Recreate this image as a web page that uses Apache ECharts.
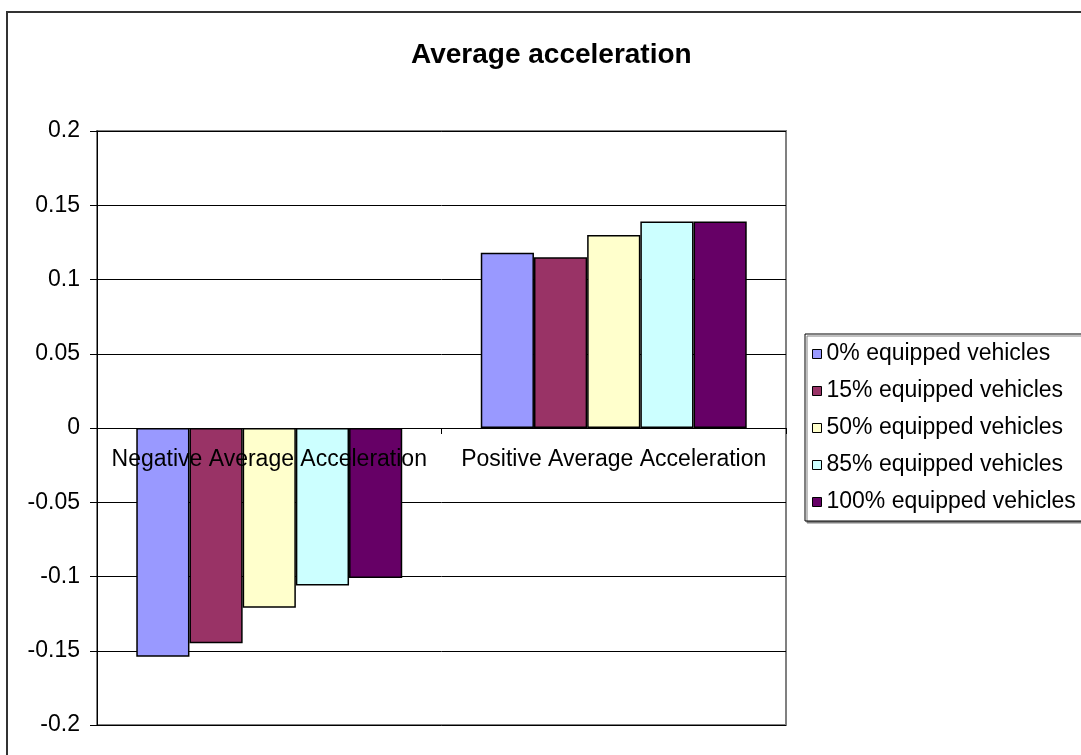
<!DOCTYPE html>
<html>
<head>
<meta charset="utf-8">
<script src="https://cdn.jsdelivr.net/npm/echarts@6/dist/echarts.min.js"></script>
<style>
  html, body { margin: 0; padding: 0; background: #fff; }
  #chart { width: 1081px; height: 755px; }
</style>
</head>
<body>
<div id="chart"></div>
<script>
const categories = ['Negative Average Acceleration', 'Positive Average Acceleration']
const seriesNames = [
  '0% equipped vehicles',
  '15% equipped vehicles',
  '50% equipped vehicles',
  '85% equipped vehicles',
  '100% equipped vehicles'
]
const equipped0 = [-0.154, 0.118]
const equipped15 = [-0.145, 0.115]
const equipped50 = [-0.121, 0.130]
const equipped85 = [-0.106, 0.139]
const equipped100 = [-0.101, 0.139]
const colors = ['#9999FF', '#993366', '#FFFFCC', '#CCFFFF', '#660066']

const font = "'Liberation Sans', Arial, sans-serif"
const chart = echarts.init(document.getElementById('chart'))

const seriesData = [equipped0, equipped15, equipped50, equipped85, equipped100]

// plot area 131..725 px, zero line sits in the middle -> x axis moved up by half
const gridTop = 131
const gridBottom = 30
const plotHeight = 755 - gridTop - gridBottom

const option = {
  animation: false,
  backgroundColor: '#fff',
  color: colors,
  title: {
    text: 'Average acceleration',
    left: 406,
    top: 36,
    textStyle: { fontFamily: font, fontSize: 28, fontWeight: 'bold', color: '#000' }
  },
  graphic: [
    {
      type: 'rect',
      shape: { x: 7, y: 12, width: 1200, height: 1000 },
      style: { fill: 'none', stroke: '#333', lineWidth: 2 },
      silent: true
    }
  ],
  legend: {
    orient: 'vertical',
    left: 805,
    top: 334,
    padding: [8, 40, 7, 7],
    itemWidth: 9,
    itemHeight: 9,
    itemGap: 13,
    icon: 'rect',
    borderColor: '#000',
    borderWidth: 1,
    backgroundColor: '#fff',
    shadowColor: '#808080',
    shadowOffsetX: 2,
    shadowOffsetY: 2,
    shadowBlur: 0,
    itemStyle: { borderColor: '#000', borderWidth: 1 },
    textStyle: { fontFamily: font, fontSize: 23, color: '#000', lineHeight: 24 },
    data: seriesNames
  },
  grid: {
    left: 97,
    right: 295,
    top: gridTop,
    bottom: gridBottom,
    show: true,
    borderColor: '#808080',
    borderWidth: 2,
    backgroundColor: 'transparent'
  },
  xAxis: {
    type: 'category',
    data: categories,
    position: 'bottom',
    offset: -plotHeight / 2,
    z: 5,
    axisLine: { onZero: false, lineStyle: { color: '#000', width: 1 } },
    axisTick: { show: true, length: 6, lineStyle: { color: '#000' } },
    axisLabel: { fontFamily: font, fontSize: 23, color: '#000', margin: 20, interval: 0, hideOverlap: false },
    splitLine: { show: false }
  },
  yAxis: {
    type: 'value',
    min: -0.2,
    max: 0.2,
    interval: 0.05,
    axisLine: { show: true, lineStyle: { color: '#000', width: 1 } },
    axisTick: { show: true, length: 7, lineStyle: { color: '#000' } },
    axisLabel: { fontFamily: font, fontSize: 23, color: '#000', margin: 17 },
    splitLine: { show: true, lineStyle: { color: '#000', width: 1 } }
  },
  series: seriesNames.map((name, i) => ({
    name: name,
    type: 'bar',
    data: seriesData[i],
    barGap: '0%',
    barCategoryGap: '22.8%',
    itemStyle: { color: colors[i], borderColor: '#000', borderWidth: 1.5 }
  }))
}

chart.setOption(option)
</script>
</body>
</html>
